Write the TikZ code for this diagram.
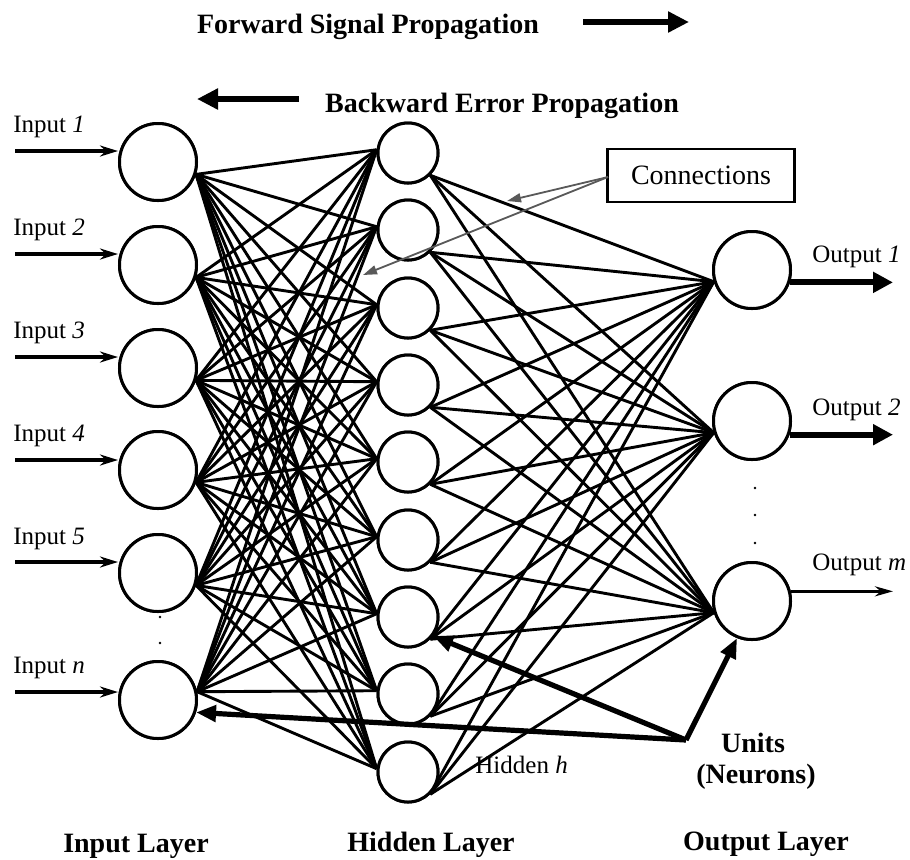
\documentclass[tikz,border=0pt]{standalone}
\usepackage{fontspec}
\setmainfont{Liberation Serif}
\usetikzlibrary{arrows.meta}
\begin{document}
\begin{tikzpicture}[x=0.5pt,y=-0.5pt,
  unit/.style={circle,draw,line width=1.5pt,fill=white,inner sep=0pt},
  inunit/.style={unit,minimum size=38.5pt},
  hidunit/.style={unit,minimum size=30pt},
  outunit/.style={unit,minimum size=38.5pt},
  link/.style={line width=1.45pt},
  lbl/.style={font=\fontsize{12.5}{14}\selectfont,inner sep=0pt},
  head/.style={font=\fontsize{14}{16}\bfseries\selectfont,inner sep=0pt},
  inarrow/.style={line width=2.1pt,-{Stealth[length=9pt,width=5.5pt]}},
  outarrow/.style={line width=3pt,-{Triangle[length=10pt,width=10pt]}},
  thinout/.style={line width=1.6pt,-{Stealth[length=9pt,width=5pt]}},
  bigarrow/.style={line width=2.8pt,-{Triangle[length=10.5pt,width=10pt]}},
  unitarrow/.style={line width=2.6pt,-{Triangle[length=10pt,width=8pt]}},
  notearrow/.style={line width=0.9pt,draw=black!65,-{Triangle[length=7pt,width=4.5pt]}},
  dot/.style={circle,fill=black,inner sep=0pt,minimum size=1.3pt}
]
\useasboundingbox (0,0) rectangle (910,859);

% propagation headings
\node[head,anchor=base] (fwd) at (368,33) {Forward Signal Propagation};
\coordinate (fa) at (583,22);
\coordinate (fb) at (689,22);
\draw[bigarrow] (fa) -- (fb);
\node[head,anchor=base] (bwd) at (502,112) {Backward Error Propagation};
\coordinate (ba) at (299,99);
\coordinate (bb) at (197,99);
\draw[bigarrow] (ba) -- (bb);

% input layer
\foreach \i/\y in {1/162,2/265,3/368,4/470,5/573,6/700}
  \node[inunit] (i\i) at (158,\y) {};

% hidden layer
\foreach \j/\y in {1/153,2/230,3/308,4/385,5/462,6/540,7/617,8/694,9/772}
  \node[hidunit] (h\j) at (408,\y) {};

% output layer
\node[outunit] (o1) at (752,270) {};
\node[outunit] (o2) at (752,421) {};
\node[outunit] (o3) at (752,601) {};

% weights: input -> hidden
\foreach \i/\a in {1/-18,2/-18,3/-18,4/-18,5/-18,6/12}
  \foreach \j in {1,...,9}
    \draw[link] (i\i.\a) -- (h\j.174);

% weights: hidden -> output
\foreach \j in {1,...,9}
  \foreach \k in {1,2,3}
    \draw[link] (h\j.-45) -- (o\k.197);

% redraw units on top of the weights
\foreach \i/\y in {1/162,2/265,3/368,4/470,5/573,6/700}
  \node[inunit] at (158,\y) {};
\foreach \j/\y in {1/153,2/230,3/308,4/385,5/462,6/540,7/617,8/694,9/772}
  \node[hidunit] at (408,\y) {};
\node[outunit] at (752,270) {};
\node[outunit] at (752,421) {};
\node[outunit] at (752,601) {};

% input signals
\foreach \i/\y/\t in {1/132/1,2/235/2,3/338/3,4/441/4,5/544/5,6/673/n}
  \node[lbl,anchor=base west] (il\i) at (13,\y) {Input \textit{\t}};
\foreach \i/\y in {1/151,2/254,3/357,4/460,5/562,6/692}
  {\coordinate (is\i) at (15,\y);
   \draw[inarrow] (is\i) -- (is\i -| i\i.west);}
\node[dot] (id1) at (160,617) {};
\node[dot] (id2) at (160,643) {};

% output signals
\node[lbl,anchor=base west] (ol1) at (812,262) {Output \textit{1}};
\node[lbl,anchor=base west] (ol2) at (812,415) {Output \textit{2}};
\node[lbl,anchor=base west] (ol3) at (812,570) {Output \textit{m}};
\coordinate (oe1) at (893,282);
\coordinate (oe2) at (893,435);
\coordinate (oe3) at (893,592);
\draw[outarrow] (o1.-18) -- (o1.-18 -| oe1);
\draw[outarrow] (o2.-20) -- (o2.-20 -| oe2);
\draw[thinout] (o3.14) -- (o3.14 -| oe3);
\node[dot] (od1) at (755,488) {};
\node[dot] (od2) at (755,515) {};
\node[dot] (od3) at (755,543) {};

% connections note
\node[draw,line width=1.1pt,minimum width=93.5pt,minimum height=26.5pt,inner sep=0pt,
      font=\fontsize{14}{16}\selectfont] (conn) at (701,175.5) {Connections};
\coordinate (cs) at (608,177);
\coordinate (ct1) at (507,201);
\coordinate (ct2) at (363,275);
\draw[notearrow] (cs) -- (ct1);
\draw[notearrow] (cs) -- (ct2);

% units note
\coordinate (J) at (686,740);
\draw[unitarrow] (J) -- (h7.-37);
\draw[unitarrow] (J) -- (o3.-112);
\draw[unitarrow] (J) -- (i6.-18);
\node[head,anchor=base] (units) at (753,752) {Units};
\node[head,anchor=base] (neur) at (756,783) {(Neurons)};
\node[lbl,anchor=base west] (hh) at (475,773) {Hidden \textit{h}};

% layer captions
\node[head,anchor=base] (cin) at (136,852) {Input Layer};
\node[head,anchor=base] (chid) at (431,851) {Hidden Layer};
\node[head,anchor=base] (cout) at (766,850) {Output Layer};
\end{tikzpicture}
\end{document}
